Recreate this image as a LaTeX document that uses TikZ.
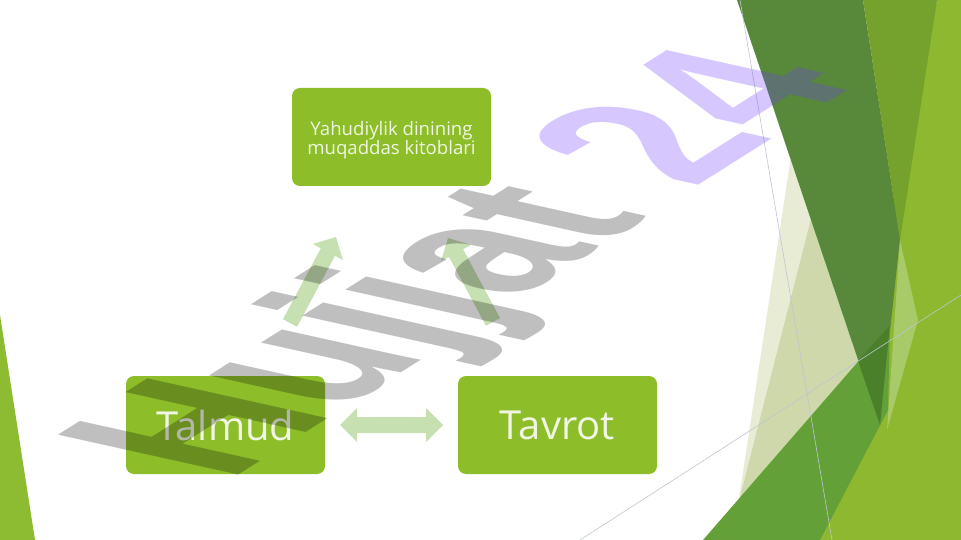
\documentclass[tikz,border=0pt]{standalone}
\usepackage{fontspec}
\setmainfont{Open Sans}
\newfontfamily\wmfont{Liberation Sans}
\usetikzlibrary{calc}
\definecolor{boxgreen}{RGB}{141,190,42}
\definecolor{boxtext}{RGB}{240,245,228}
\definecolor{arrowgreen}{RGB}{198,224,178}
\definecolor{darkband}{RGB}{88,136,58}
\definecolor{olivegreen}{RGB}{116,162,44}
\definecolor{lightright}{RGB}{141,184,48}
\definecolor{midband}{RGB}{100,160,56}
\definecolor{overlapgreen}{RGB}{74,128,42}
\definecolor{paleA}{RGB}{232,236,212}
\definecolor{paleB}{RGB}{206,216,170}
\definecolor{paleC}{RGB}{168,202,104}
\definecolor{thinline}{RGB}{190,198,210}
\definecolor{leftstrip}{RGB}{141,187,50}
\definecolor{wmviolet}{RGB}{110,60,255}
\tikzset{
  box/.style={draw=none, fill=boxgreen, rounded corners=8pt, minimum width=199pt, minimum height=98pt, inner sep=0pt, text=boxtext, align=center},
  boxlabel/.style={inner sep=0pt, text=boxtext, align=center},
  blockarrow/.style={fill=arrowgreen},
  thinstroke/.style={draw=thinline, line width=0.6pt},
  wm/.style={transform shape, anchor=base west, inner sep=0pt, font=\wmfont\bfseries\fontsize{100}{100}\selectfont},
}
\begin{document}
\begin{tikzpicture}[x=1pt,y=-1pt]
\useasboundingbox (0,0) rectangle (961,540);
\fill[white] (0,0) rectangle (961,540);
% decoration on the right
\fill[lightright] (937,0) -- (961,0) -- (961,540) -- (820,540) -- (860,440) -- (885,240) -- cycle;
\fill[paleC] (900,240) -- (918,320) -- (887,430) -- cycle;
\fill[paleA] (792,150) -- (875,400) -- (738,505) -- cycle;
\fill[paleB] (812,215) -- (875,400) -- (738,505) -- cycle;
\fill[darkband] (737,0) -- (863,0) -- (900,238) -- (880,425) -- cycle;
\fill[olivegreen] (863,0) -- (937,0) -- (900,240) -- cycle;
\fill[midband] (703,540) -- (890,325) -- (888,410) -- (820,540) -- cycle;
\fill[overlapgreen] (858,361) -- (890,325) -- (880,425) -- cycle;
\draw[thinstroke] (740,0) -- (832,540);
\draw[thinstroke] (580,540) -- (961,295);
\fill[leftstrip] (0,315) -- (35,540) -- (0,540) -- cycle;
% boxes
\node[box] (top) at (391.5,137) {};
\node[boxlabel, font=\fontsize{18.6}{19.5}\selectfont] (toptext) at ($(top.center)+(0,3)$) {Yahudiylik dinining\\muqaddas kitoblari};
\node[box, font=\fontsize{40}{48}\selectfont] (talmud) at (225.5,425) {Talmud};
\node[box, font=\fontsize{40}{48}\selectfont] (tavrot) at (557.5,425) {Tavrot};
% arrows
\begin{scope}[shift={(290,323)}, rotate=61.9]
\fill[blockarrow] (0,-8) -- (80.5,-8) -- (80.5,-17) -- (97.5,0) -- (80.5,17) -- (80.5,8) -- (0,8) -- cycle;
\end{scope}
\begin{scope}[shift={(493,322)}, rotate=118.2]
\fill[blockarrow] (0,-8) -- (78.3,-8) -- (78.3,-17) -- (95.3,0) -- (78.3,17) -- (78.3,8) -- (0,8) -- cycle;
\end{scope}
\begin{scope}[shift={(340,425)}]
\fill[blockarrow] (0,0) -- (17,-17) -- (17,-8) -- (86,-8) -- (86,-17) -- (103,0) -- (86,17) -- (86,8) -- (17,8) -- (17,17) -- cycle;
\end{scope}
% watermark
\begin{scope}[shift={(228,482)}, cm={1.52,0.96,-2.62,0.58,(0,0)}]
\node[wm, text=black, text opacity=0.25] (wh) at (0,0) {Hujjat};
\node[wm, text=wmviolet, text opacity=0.28] (w24) at (wh.base east) {\ 24};
\end{scope}
\end{tikzpicture}
\end{document}
